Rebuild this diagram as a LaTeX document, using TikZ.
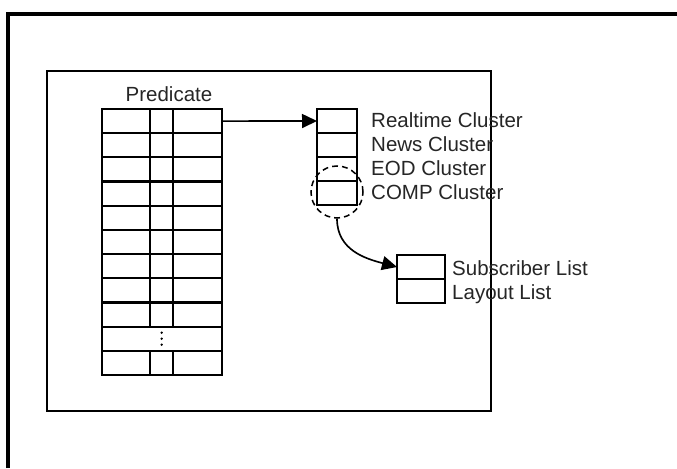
\documentclass[tikz,border=0pt]{standalone}
\usepackage{fontspec}
\setmainfont{Liberation Sans}
\usetikzlibrary{arrows.meta}
\definecolor{labelGray}{gray}{0.15}

\begin{document}
\begin{tikzpicture}[%%
  x=0.03cm,y=-0.03cm,
  cellStyle/.style={draw,line width=1.9pt,inner sep=0pt,outer sep=0pt,
    minimum height=0.726cm},
  slotStyle/.style={draw,line width=1.9pt,inner sep=0pt,outer sep=0pt,
    minimum height=0.72cm},
  labelStyle/.style={anchor=base west,inner sep=0pt,text=labelGray,
    font=\fontsize{17.5}{21}\selectfont},
  linkStyle/.style={line width=1.4pt,-{Triangle[length=0.45cm,width=0.42cm]}}
]
%%
\useasboundingbox (0,0) rectangle (677,468);
%%
%% The page frame and the figure box.
\draw[line width=2.6pt] (8,468) -- (8,14) -- (677,14);
\draw[line width=2.1pt] (47,71) rectangle (491,411);
%%
%% The predicate table.
\node[labelStyle,anchor=base] (predLabel) at (169,101) {Predicate};
\foreach \r in {1,...,11}{
  \pgfmathsetmacro{\yc}{109+(\r-0.5)*24.18}
  \ifnum\r=10
    \node[cellStyle,minimum width=3.6cm] (pred-\r) at (161.7,\yc) {};
  \else
    \node[cellStyle,minimum width=1.449cm] (pred-\r-a) at (125.85,\yc) {};
    \node[cellStyle,minimum width=0.69cm] (pred-\r-b) at (161.5,\yc) {};
    \node[cellStyle,minimum width=1.461cm] (pred-\r-c) at (197.35,\yc) {};
  \fi
}
%% The dots of the skipped rows.
\foreach \d in {-6,0,6}
  \fill ([yshift=-\d*0.03cm]pred-10.center) circle (1.1pt);
%%
%% The clusters.
\foreach \r/\txt in {1/Realtime,2/News,3/EOD,4/COMP}{
  \pgfmathsetmacro{\yc}{109+(\r-0.5)*24}
  \node[slotStyle,minimum width=1.2cm] (cluster-\r) at (337,\yc) {};
  \node[labelStyle] (clusterText-\r) at (371,\yc+6.5) {\txt\ Cluster};
}
\node[draw,circle,line width=1.3pt,dash pattern=on 5pt off 3.5pt,
  minimum size=1.56cm] (compRing) at (337,192) {};
%%
%% The lists.
\foreach \r/\txt in {1/Subscriber List,2/Layout List}{
  \pgfmathsetmacro{\yc}{255+(\r-0.5)*24}
  \node[slotStyle,minimum width=1.44cm] (sub-\r) at (421,\yc) {};
  \node[labelStyle] (subText-\r) at (452,\yc+8) {\txt};
}
%%
%% Links.
\draw[linkStyle] (pred-1-c.east) -- (cluster-1.west);
\draw[linkStyle] (compRing.south) .. controls +(0,32) and +(-30,-8) .. (sub-1.west);
\end{tikzpicture}
\end{document}
